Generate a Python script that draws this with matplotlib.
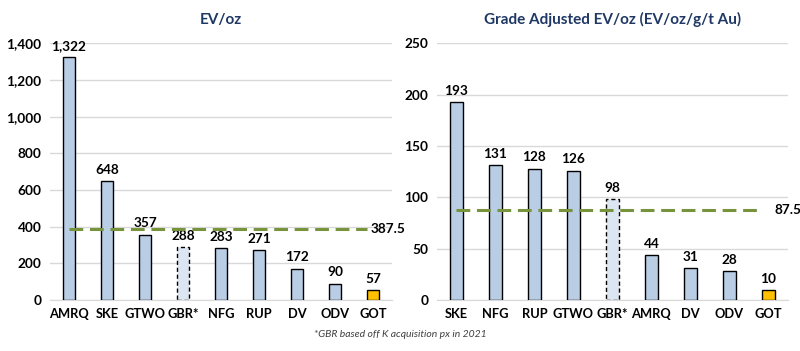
import numpy as np
import matplotlib.pyplot as plt

plt.rcParams['font.family'] = ['Lato', 'DejaVu Sans']

# left chart: EV/oz
ev_names = ['AMRQ', 'SKE', 'GTWO', 'GBR*', 'NFG', 'RUP', 'DV', 'ODV', 'GOT']
ev_values = [1322, 648, 357, 288, 283, 271, 172, 90, 57]
ev_avg = 387.5

# right chart: grade adjusted EV/oz
ga_names = ['SKE', 'NFG', 'RUP', 'GTWO', 'GBR*', 'AMRQ', 'DV', 'ODV', 'GOT']
ga_values = [193, 131, 128, 126, 98, 44, 31, 28, 10]
ga_avg = 87.5

blue = '#B9CDE5'
light = '#DCE6F2'
gold = '#FFC000'
navy = '#1F3864'
green = '#77933C'


def draw_panel(ax, names, values, avg, ymax, step, title, label_off, avg_x):
    x = np.arange(len(names))
    for i, (n, v) in enumerate(zip(names, values)):
        if n == 'GBR*':
            ax.bar(i, v, width=0.32, color=light, edgecolor='black',
                   linestyle=(0, (3, 2)), linewidth=1.0, zorder=3)
        else:
            c = gold if n == 'GOT' else blue
            ax.bar(i, v, width=0.32, color=c, edgecolor='black',
                   linewidth=1.0, zorder=3)
        ax.text(i, v + label_off, f'{v:,}', ha='center', va='bottom',
                fontsize=9.8, fontweight='bold', zorder=4)
    # average line
    ax.plot([0, avg_x[0]], [avg, avg], color=green, linestyle=(0, (4.5, 2.2)),
            linewidth=2.2, zorder=5)
    ax.text(avg_x[1], avg, f'{avg}', ha='left', va='center', fontsize=9.8,
            fontweight='bold', clip_on=False)
    ax.set_xlim(-0.5, 8.5)
    ax.set_ylim(0, ymax)
    ax.set_yticks(np.arange(0, ymax + 1, step))
    ax.set_yticklabels([f'{t:,}' for t in np.arange(0, ymax + 1, step)])
    ax.set_xticks(x)
    ax.set_xticklabels(names)
    ax.yaxis.grid(True, color='#D9D9D9', linewidth=1.0, zorder=0)
    ax.set_axisbelow(True)
    for s in ['top', 'right', 'left']:
        ax.spines[s].set_visible(False)
    ax.spines['bottom'].set_color('#D9D9D9')
    ax.tick_params(length=0, pad=6)
    ax.tick_params(axis='y', labelsize=9.8)
    ax.tick_params(axis='x', labelsize=9.3)
    for lab in ax.get_xticklabels() + ax.get_yticklabels():
        lab.set_fontweight('bold')
    ax.set_title(title, fontsize=11, fontweight='bold', color=navy, pad=14)


fig = plt.figure(figsize=(8, 3.51), dpi=100)
ax1 = fig.add_axes([0.0625, 0.145, 0.4275, 0.732])
ax2 = fig.add_axes([0.546, 0.145, 0.439, 0.732])

draw_panel(ax1, ev_names, ev_values, ev_avg, 1400, 200, 'EV/oz', 28, (7.85, 7.95))
draw_panel(ax2, ga_names, ga_values, ga_avg, 250, 50, 'Grade Adjusted EV/oz (EV/oz/g/t Au)', 5, (7.8, 8.15))

fig.text(0.5, 0.048, '*GBR based off K acquisition px in 2021', ha='center',
         va='center', fontsize=7.5, style='italic', color='#404040')

fig.savefig('out.png', dpi=100)
